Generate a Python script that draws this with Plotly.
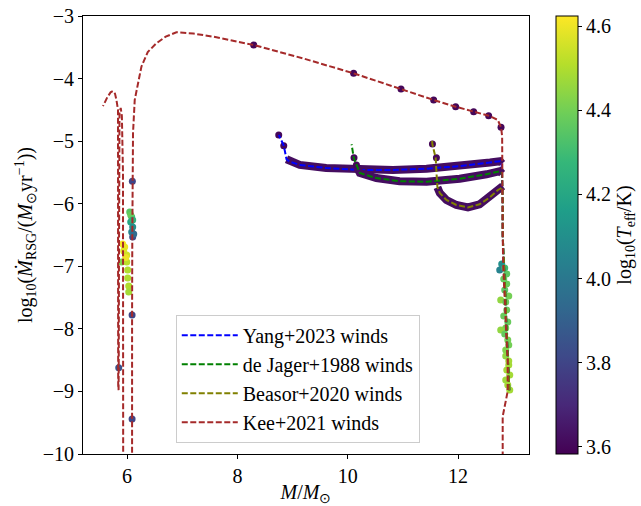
import plotly.graph_objects as go
from plotly.colors import sample_colorscale

# log10(Teff/K) limits of the colour bar
TEFF_MIN, TEFF_MAX = 3.583, 4.624

# ---------------- Yang+2023 winds ----------------
yang_mass = [12.93, 12.90, 12.88, 12.86, 12.83, 12.81, 12.81, 12.80, 12.79, 12.76, 12.58,
             12.03, 11.43, 10.82, 10.22, 9.61, 9.13, 8.95, 8.89, 8.87, 8.84, 8.75]
yang_mdot = [-8.98, -8.50, -8.00, -7.50, -7.00, -6.50, -6.00, -5.50, -5.34, -5.32, -5.34,
             -5.40, -5.44, -5.46, -5.46, -5.43, -5.38, -5.33, -5.29, -5.20, -5.07, -4.90]
yang_band_mass = [12.80, 12.76, 12.58, 12.03, 11.43, 10.82, 10.22, 9.61, 9.13, 8.95, 8.89]
yang_band_mdot = [-5.36, -5.32, -5.34, -5.40, -5.44, -5.46, -5.46, -5.43, -5.38, -5.33, -5.29]
yang_pt_mass = [8.749, 8.840]
yang_pt_mdot = [-4.902, -5.073]
yang_pt_teff = [3.60, 3.60]

# ---------------- de Jager+1988 winds ----------------
dej_mass = [12.93, 12.90, 12.88, 12.86, 12.83, 12.81, 12.81, 12.80, 12.76, 12.515, 12.03,
            11.43, 10.94, 10.52, 10.22, 10.16, 10.11, 10.07]
dej_mdot = [-8.98, -8.50, -8.00, -7.50, -7.00, -6.50, -6.00, -5.52, -5.48, -5.53, -5.60,
            -5.65, -5.64, -5.59, -5.51, -5.38, -5.27, -5.05]
dej_band_mass = [12.80, 12.76, 12.515, 12.03, 11.43, 10.94, 10.52, 10.22, 10.17]
dej_band_mdot = [-5.52, -5.48, -5.53, -5.60, -5.65, -5.64, -5.59, -5.51, -5.42]
dej_pt_mass = [10.114, 10.158]
dej_pt_mdot = [-5.265, -5.381]
dej_pt_teff = [3.60, 3.60]

# ---------------- Beasor+2020 winds ----------------
bea_mass = [12.93, 12.90, 12.88, 12.86, 12.83, 12.81, 12.81, 12.805, 12.725, 12.575, 12.39,
            12.18, 11.97, 11.79, 11.67, 11.626, 11.61, 11.595, 11.535, 11.53]
bea_mdot = [-8.98, -8.50, -8.00, -7.50, -7.00, -6.50, -6.00, -5.74, -5.78, -5.90, -6.01,
            -6.06, -6.02, -5.94, -5.83, -5.73, -5.51, -5.27, -5.05, -4.99]
bea_band_mass = [12.81, 12.725, 12.575, 12.39, 12.18, 11.97, 11.79, 11.67, 11.626]
bea_band_mdot = [-5.72, -5.78, -5.90, -6.01, -6.06, -6.02, -5.94, -5.83, -5.74]
bea_pt_mass = [11.536, 11.608]
bea_pt_mdot = [-5.046, -5.265]
bea_pt_teff = [3.60, 3.60]

# ---------------- Kee+2021 winds ----------------
kee_mass = [12.81, 12.81, 12.90, 12.90, 12.87, 12.84, 12.82, 12.81, 12.81, 12.80, 12.78,
            12.72, 12.555, 12.283, 11.957, 11.558, 10.966, 10.107, 9.20, 8.295, 7.565,
            7.20, 6.894, 6.70, 6.531, 6.374, 6.259, 6.198, 6.138, 6.107, 6.095, 6.094,
            6.09, 6.09, 6.09, 5.929, 5.928, 5.925, 5.905, 5.884, 5.862, 5.857, 5.852,
            5.848, 5.845, 5.838, 5.836, 5.835, 5.835, 5.806, 5.78, 5.744, 5.70, 5.64, 5.563]
kee_mdot = [-10.6, -9.40, -9.00, -8.50, -8.00, -7.50, -7.00, -6.50, -5.50, -4.92, -4.78,
            -4.66, -4.593, -4.53, -4.45, -4.342, -4.167, -3.916, -3.68, -3.463, -3.331,
            -3.28, -3.26, -3.33, -3.436, -3.575, -3.81, -4.05, -4.34, -4.87, -5.64, -6.53,
            -7.78, -9.44, -10.6, -10.6, -7.00, -5.50, -4.60, -4.47, -4.55, -5.20, -7.00,
            -8.62, -8.98, -8.90, -7.00, -5.00, -4.50, -4.34, -4.24, -4.20, -4.22, -4.30, -4.44]
kee_pt_mass = [12.78, 12.555, 12.283, 11.957, 11.558, 10.966, 10.107, 8.295,
               6.095, 6.101, 6.09, 5.848, 6.09,
               6.047, 6.083, 6.065, 6.101, 6.083, 6.120, 6.065, 6.101,
               5.920, 5.956, 5.938, 5.993, 5.902, 5.993, 6.011, 6.011, 6.029, 6.029, 5.975]
kee_pt_mdot = [-4.779, -4.593, -4.53, -4.45, -4.342, -4.167, -3.916, -3.463,
               -5.64, -6.532, -7.78, -8.62, -9.44,
               -6.132, -6.212, -6.292, -6.372, -6.452, -6.484, -6.180, -6.260,
               -6.644, -6.692, -6.756, -6.820, -6.932, -6.932, -7.059, -7.187, -7.315, -7.411, -6.860]
kee_pt_teff = [3.60, 3.60, 3.60, 3.60, 3.60, 3.60, 3.60, 3.60,
               3.80, 3.82, 3.80, 3.85, 3.80,
               4.35, 4.30, 4.20, 4.10, 4.05, 3.95, 4.38, 4.25,
               4.62, 4.60, 4.58, 4.55, 4.42, 4.52, 4.50, 4.50, 4.50, 4.48, 4.60]

# Hot pre-RSG phase shared by the tracks near the initial mass
hot_pt_mass = [12.792, 12.756, 12.847, 12.884, 12.829, 12.884, 12.847, 12.920, 12.774,
               12.865, 12.884, 12.829, 12.902, 12.865, 12.774, 12.847, 12.902, 12.920,
               12.865, 12.865, 12.920, 12.920, 12.884, 12.938, 12.865, 12.902, 12.938]
hot_pt_mdot = [-6.964, -7.059, -7.027, -7.123, -7.203, -7.283, -7.379, -7.475, -7.539,
               -7.571, -7.699, -7.795, -7.891, -7.986, -8.018, -8.082, -8.178, -8.258,
               -8.338, -8.434, -8.514, -8.578, -8.658, -8.738, -8.818, -8.897, -8.977]
hot_pt_teff = [4.10, 4.05, 4.30, 4.36, 4.38, 4.38, 4.36, 4.40, 4.45,
               4.38, 4.38, 4.38, 4.38, 4.40, 4.45, 4.37, 4.40, 4.40,
               4.42, 4.45, 4.48, 4.48, 4.48, 4.48, 4.47, 4.48, 4.48]

RSG_BAND_TEFF = 3.62

x_ticks = [6, 8, 10, 12]
y_ticks = [-10, -9, -8, -7, -6, -5, -4, -3]
cbar_ticks = [3.6, 3.8, 4.0, 4.2, 4.4, 4.6]

FONT = "Liberation Serif"


def teff_color(t):
    return sample_colorscale("Viridis", [(t - TEFF_MIN) / (TEFF_MAX - TEFF_MIN)])[0]


band_color = teff_color(RSG_BAND_TEFF)

models = [
    ("Yang+2023 winds", "#0000ff", yang_mass, yang_mdot, yang_band_mass, yang_band_mdot,
     [yang_pt_mass + hot_pt_mass, yang_pt_mdot + hot_pt_mdot, yang_pt_teff + hot_pt_teff]),
    ("de Jager+1988 winds", "#008000", dej_mass, dej_mdot, dej_band_mass, dej_band_mdot,
     [dej_pt_mass, dej_pt_mdot, dej_pt_teff]),
    ("Beasor+2020 winds", "#808000", bea_mass, bea_mdot, bea_band_mass, bea_band_mdot,
     [bea_pt_mass, bea_pt_mdot, bea_pt_teff]),
    ("Kee+2021 winds", "#a52a2a", kee_mass, kee_mdot, None, None,
     [kee_pt_mass, kee_pt_mdot, kee_pt_teff]),
]

fig = go.Figure()

for name, color, m, md, bm, bmd, pts in models:
    if bm is not None:
        fig.add_trace(go.Scatter(
            x=bm, y=bmd, mode="lines", legendgroup=name, showlegend=False,
            line=dict(color=band_color, width=8), hoverinfo="skip"))
    fig.add_trace(go.Scatter(
        x=pts[0], y=pts[1], mode="markers", legendgroup=name, showlegend=False,
        marker=dict(size=7, color=pts[2], coloraxis="coloraxis", line=dict(width=0)),
        hoverinfo="skip"))
    fig.add_trace(go.Scatter(
        x=m, y=md, mode="lines", name=name, legendgroup=name,
        line=dict(color=color, width=2, dash="6px,2.5px")))

axis_common = dict(
    showline=True, linecolor="black", linewidth=1, mirror=True,
    ticks="outside", ticklen=4, tickcolor="black", showgrid=False, zeroline=False,
    tickfont=dict(family=FONT, size=20, color="black"), automargin=False,
)

fig.update_layout(
    width=641, height=506,
    margin=dict(l=83, r=112, t=16, b=52, pad=0, autoexpand=False),
    paper_bgcolor="white", plot_bgcolor="white",
    font=dict(family=FONT, size=20, color="black"),
    xaxis=dict(range=[5.2, 13.287], tickvals=x_ticks,
               title=dict(text="<i>M</i>/<i>M</i><sub>⊙</sub>", standoff=2,
                          font=dict(family=FONT, size=20)),
               **axis_common),
    yaxis=dict(range=[-10, -3], tickvals=y_ticks,
               title=dict(text="log<sub>10</sub>(<i>Ṁ</i><sub>RSG</sub>/(<i>M</i><sub>⊙</sub>yr<sup>−1</sup>))",
                          standoff=4, font=dict(family=FONT, size=20)),
               **axis_common),
    coloraxis=dict(
        colorscale="Viridis", cmin=TEFF_MIN, cmax=TEFF_MAX,
        colorbar=dict(
            x=1.0614, xanchor="left", xref="paper", xpad=0, ypad=0,
            y=0.5, yanchor="middle", len=1, lenmode="fraction", thickness=22,
            outlinewidth=1, outlinecolor="black",
            ticks="outside", ticklen=4, tickcolor="black",
            tickvals=cbar_ticks, tickformat=".1f",
            tickfont=dict(family=FONT, size=20, color="black"),
            title=dict(text="log<sub>10</sub>(<i>T</i><sub>eff</sub>/K)", side="right",
                       font=dict(family=FONT, size=20)),
        ),
    ),
    legend=dict(
        x=0.208, y=0.318, xanchor="left", yanchor="top",
        bgcolor="rgba(255,255,255,0.85)", bordercolor="#cccccc", borderwidth=1,
        font=dict(family=FONT, size=20, color="black"),
        traceorder="grouped", tracegroupgap=0, itemwidth=56,
    ),
    showlegend=True,
)

fig.write_html("out.html")
